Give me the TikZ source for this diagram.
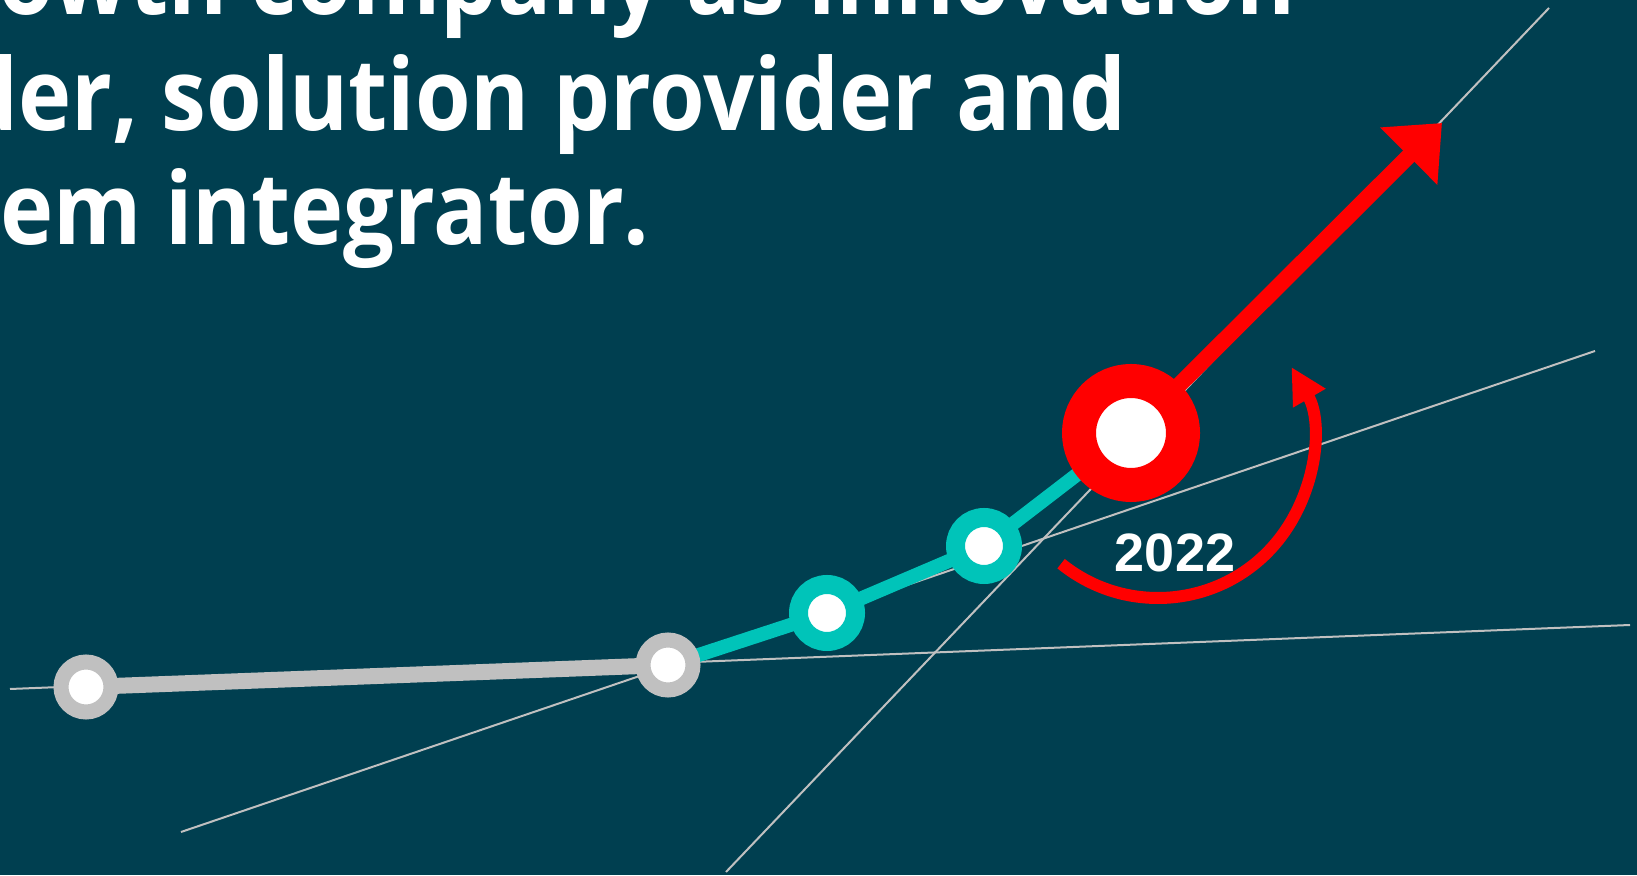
\documentclass[tikz,border=0pt]{standalone}
\usepackage{fontspec}
\setmainfont{Open Sans}[FakeStretch=0.9]
\newfontfamily\yearfont{Liberation Sans}
\usetikzlibrary{arrows.meta}

\definecolor{bgblue}{RGB}{0,63,80}
\definecolor{ringgray}{RGB}{192,192,192}
\definecolor{ringteal}{RGB}{0,196,185}
\definecolor{ringred}{RGB}{255,0,0}

\pgfdeclarelayer{back}
\pgfsetlayers{back,main}

\tikzset{
  oldring/.style={circle,draw=ringgray,line width=15pt,fill=white,minimum size=50pt,inner sep=0pt},
  newring/.style={circle,draw=ringteal,line width=19pt,fill=white,minimum size=57pt,inner sep=0pt},
  nowring/.style={circle,draw=ringred,line width=34pt,fill=white,minimum size=104pt,inner sep=0pt},
  guide/.style={ringgray,line width=2pt},
  headline/.style={text=white,font=\bfseries\fontsize{100}{115}\selectfont,anchor=base west,inner sep=0pt}
}

\begin{document}
\begin{tikzpicture}[x=1pt,y=1pt]

\useasboundingbox (0,0) rectangle (1637,875);
\clip (0,0) rectangle (1637,875);

\node[headline] (line1) at (-2,860) {owth company as innovation};
\node[headline] (line2) at (18,744) {\llap{d}er, solution provider and};
\node[headline] (line3) at (0,630) {em integrator.};

\node[oldring] (p1) at (86,188) {};
\node[oldring] (p2) at (668,210) {};
\node[newring] (p3) at (827,262) {};
\node[newring] (p4) at (984,329) {};
\node[nowring] (p5) at (1131,442) {};

\coordinate (tip) at (1442,752);

\coordinate (g1a) at (10,186);
\coordinate (g1b) at (1630,250);
\coordinate (g2a) at (181,43);
\coordinate (g2b) at (1595,524);
\coordinate (g3a) at (726,3);
\coordinate (g3b) at (1549,867);

\begin{pgfonlayer}{back}
\fill[bgblue] (0,0) rectangle (1637,875);

\draw[guide] (g1a)--(g1b);
\draw[guide] (g2a)--(g2b);
\draw[guide] (g3a)--(g3b);

\draw[ringgray,line width=16pt] (p1.center)--(p2.center);
\draw[ringteal,line width=14pt,line join=round] (p2.center)--(p3.center)--(p4.center)--(p5.center);
\draw[ringred,line width=16pt,-{Triangle[length=47pt,width=78pt]}] (p5.center)--(tip);
\end{pgfonlayer}

\draw[ringred,line width=12pt,-{Triangle[length=36pt,width=35pt]}] (1158,431) ++(231:154) arc[start angle=231,end angle=390,radius=154];

\node[text=white,font=\yearfont\bfseries\fontsize{54}{54}\selectfont,anchor=base] (year) at (1175,303) {2022};

\end{tikzpicture}
\end{document}
